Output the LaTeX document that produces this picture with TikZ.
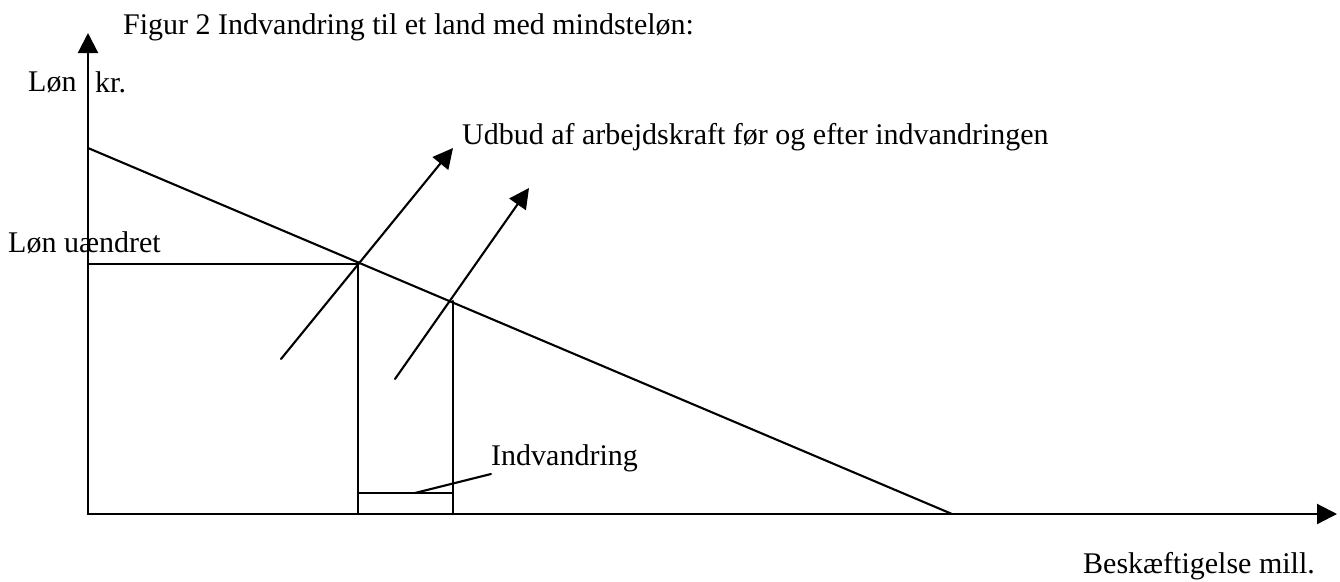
\documentclass[tikz,border=0pt]{standalone}
\usepackage{fontspec}
\setmainfont{Liberation Serif}
\usetikzlibrary{arrows.meta}
\tikzset{
  ln/.style={line width=2.1pt, line cap=round},
  arr/.style={ln, -{Triangle[length=20pt,width=20pt]}},
  lbl/.style={anchor=west, inner sep=0pt, font=\fontsize{30}{32}\selectfont},
}
\begin{document}
\begin{tikzpicture}[x=1pt,y=-1pt]
\useasboundingbox (0,0) rectangle (1340,581);
\coordinate (O) at (88,514);
\coordinate (ytop) at (88,33);
\coordinate (xend) at (1337,514);
\coordinate (dA) at (88,148);
\coordinate (dB) at (952,514);
\coordinate (E1) at (358,264);
\coordinate (E2) at (453,301);
\coordinate (W1) at (88,264);
\coordinate (F1) at (358,514);
\coordinate (F2) at (453,514);
\coordinate (G1) at (358,493);
\coordinate (G2) at (453,493);
\coordinate (L1) at (415,493);
\coordinate (L2) at (491,474);
\coordinate (s1a) at (281,359);
\coordinate (s1b) at (453,148);
\coordinate (s2a) at (395,379);
\coordinate (s2b) at (529,188);

\draw[arr] (O) -- (ytop);
\draw[arr] (O) -- (xend);
\draw[ln] (dA) -- (dB);
\draw[ln] (W1) -- (E1) -- (F1);
\draw[ln] (E2) -- (F2);
\draw[ln] (G1) -- (G2);
\draw[ln] (L1) -- (L2);
\draw[arr] (s1a) -- (s1b);
\draw[arr] (s2a) -- (s2b);

\node[lbl] (title) at (123,27) {Figur 2 Indvandring til et land med mindsteløn:};
\node[lbl] (lon) at (28,82) {Løn};
\node[lbl] (kr) at (95,82) {kr.};
\node[lbl] (udbud) at (462,137) {Udbud af arbejdskraft før og efter indvandringen};
\node[lbl] (uaendret) at (8,243) {Løn uændret};
\node[lbl] (indv) at (491,458) {Indvandring};
\node[lbl] (besk) at (1083,566) {Beskæftigelse mill.};
\end{tikzpicture}
\end{document}
